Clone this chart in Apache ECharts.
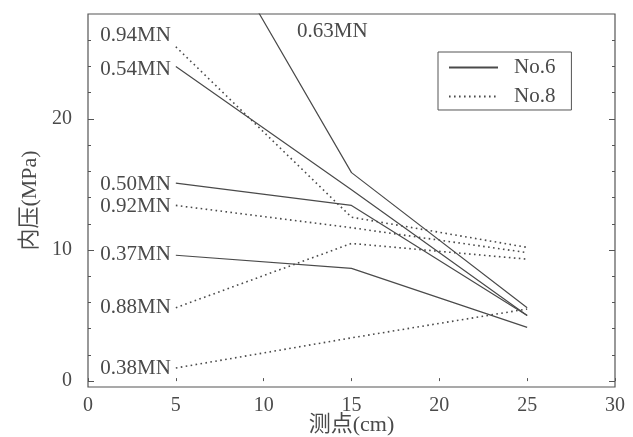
<!DOCTYPE html>
<html><head><meta charset="utf-8">
<script src="https://cdn.jsdelivr.net/npm/echarts@6/dist/echarts.min.js"></script>
<style>html,body{margin:0;padding:0;background:#fff}#c{width:633px;height:437px}</style>
</head><body><div id="c"></div>
<script>
// measuring points (cm)
const xPoints = [5, 15, 25];
// No.6 (solid) series, internal pressure (MPa)
const no6Loads = ['0.63MN', '0.54MN', '0.50MN', '0.37MN'];
const no6_063 = [39.0, 15.9, 5.6];
const no6_054 = [24.0, 14.6, 5.0];
const no6_050 = [15.1, 13.4, 5.0];
const no6_037 = [9.6, 8.6, 4.1];
// No.8 (dotted) series
const no8Loads = ['0.94MN', '0.92MN', '0.88MN', '0.38MN'];
const no8_094 = [25.5, 12.5, 10.2];
const no8_092 = [13.4, 11.7, 9.8];
const no8_088 = [5.6, 10.5, 9.3];
const no8_038 = [1.0, 3.3, 5.5];
// axis ticks
const xTicks = [0, 5, 10, 15, 20, 25, 30];
const yMajorTicks = [0, 10, 20];
const yMinorTicks = [2, 4, 6, 8, 12, 14, 16, 18, 22, 24, 26];

const no6Values = [no6_063, no6_054, no6_050, no6_037];
const no8Values = [no8_094, no8_092, no8_088, no8_038];
// label vertical nudges (styling only)
const no6LabelOffsetY = [null, 3, 1, -1];
const no8LabelOffsetY = [-11, 1, 0, 0];

const ink = '#4a4a4a';
const serif = '"Liberation Serif", "Noto Sans CJK SC", serif';

function buildSeries(name, values, load, dotted, offY) {
  const data = xPoints.map((x, i) => {
    const item = { value: [x, values[i]] };
    if (i === 0 && offY !== null) {
      item.label = {
        show: true, position: 'left', distance: 5, offset: [0, offY],
        formatter: load, fontFamily: serif, fontSize: 21, color: ink
      };
    }
    return item;
  });
  const s = {
    name: name, type: 'line', data: data,
    symbol: 'circle', symbolSize: 0, showSymbol: true,
    itemStyle: { color: ink },
    lineStyle: dotted ? { color: ink, width: 1.6, type: [1.6, 3.4] } : { color: ink, width: 1.2 },
    clip: true, animation: false, silent: true
  };
  if (offY === null) {
    s.markPoint = {
      symbol: 'circle', symbolSize: 0, silent: true,
      data: [{ coord: [11.9, 26.65], label: { show: true, position: 'right', distance: 0, formatter: load, fontFamily: serif, fontSize: 21, color: ink } }]
    };
  }
  return s;
}

const series = [];
no6Values.forEach((v, i) => series.push(buildSeries('No.6', v, no6Loads[i], false, no6LabelOffsetY[i])));
no8Values.forEach((v, i) => series.push(buildSeries('No.8', v, no8Loads[i], true, no8LabelOffsetY[i])));

function yAx(pos, ticks, len, labels, withName) {
  const a = {
    type: 'value', min: -0.45, max: 28, position: pos,
    axisLine: { show: false },
    splitLine: { show: false },
    axisTick: { show: true, inside: true, length: len, customValues: ticks, lineStyle: { color: '#555', width: 1 } },
    axisLabel: { show: !!labels, customValues: labels || [], margin: 16, fontFamily: serif, fontSize: 20, color: ink }
  };
  if (withName) {
    a.name = '内压(MPa)';
    a.nameLocation = 'middle';
    a.nameGap = 47;
    a.nameMoveOverlap = false;
    a.nameTextStyle = { fontFamily: serif, fontSize: 22, color: ink };
  }
  return a;
}

const chart = echarts.init(document.getElementById('c'), null, { renderer: 'canvas' });
chart.setOption({
  backgroundColor: '#fff',
  animation: false,
  grid: { left: 88, right: 18, top: 14, bottom: 50, outerBoundsMode: 'none', containLabel: false, show: true, borderColor: '#555', borderWidth: 1.2, backgroundColor: 'transparent' },
  legend: {
    orient: 'vertical', left: 438, top: 52,
    itemWidth: 49, itemHeight: 14, itemGap: 8,
    padding: [5, 16, 3, 10],
    borderColor: '#555', borderWidth: 1,
    textStyle: { fontFamily: serif, fontSize: 21, color: ink, padding: [0, 0, 0, 11] },
    itemStyle: { opacity: 0 },
    data: ['No.6', 'No.8'],
    selectedMode: false
  },
  xAxis: {
    type: 'value', min: 0, max: 30, interval: 5,
    axisLine: { show: false },
    splitLine: { show: false },
    axisTick: { show: true, inside: true, length: 3, customValues: xTicks, lineStyle: { color: '#555' } },
    axisLabel: { margin: 9, fontFamily: serif, fontSize: 20, color: ink, customValues: xTicks },
    name: '测点(cm)', nameLocation: 'middle', nameGap: 27, nameMoveOverlap: false,
    nameTextStyle: { fontFamily: serif, fontSize: 22, color: ink }
  },
  yAxis: [
    yAx('left', yMajorTicks, 6, yMajorTicks, true),
    yAx('left', yMinorTicks, 3, null, false),
    yAx('right', yMajorTicks, 6, null, false),
    yAx('right', yMinorTicks, 3, null, false)
  ],
  series: series
});
</script>
</body></html>
